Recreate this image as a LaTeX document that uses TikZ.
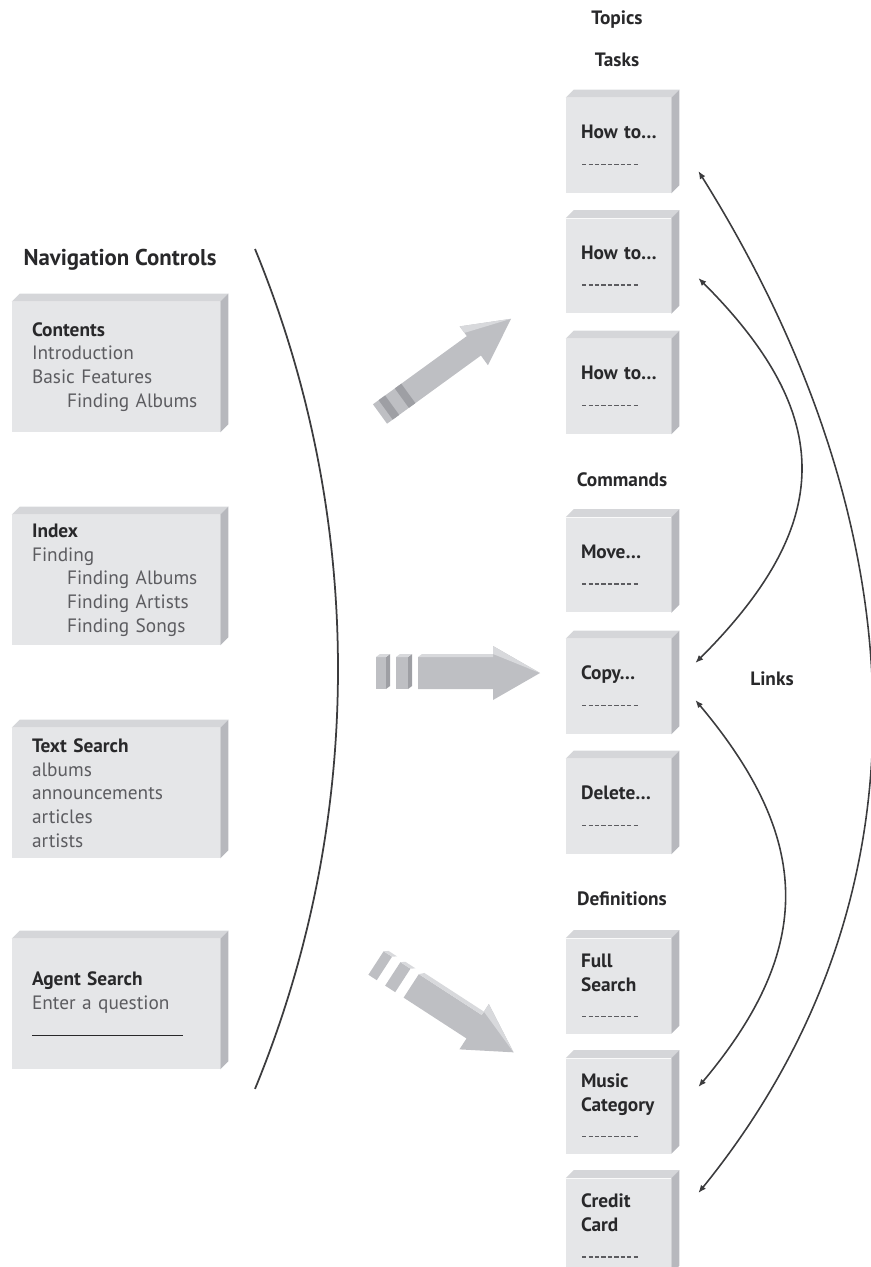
\documentclass[tikz,border=0pt]{standalone}
\usepackage{fontspec}
\setmainfont{PT Sans}
\usepackage{xcolor}
\usepackage{tikz}
\usetikzlibrary{arrows.meta}
\definecolor{box_front}{RGB}{229, 230, 232}
\definecolor{box_top}{RGB}{213, 214, 217}
\definecolor{box_side}{RGB}{183, 184, 189}
\definecolor{arrow_front}{RGB}{190, 191, 195}
\definecolor{arrow_top}{RGB}{216, 217, 220}
\definecolor{arrow_dark}{RGB}{158, 159, 164}
\definecolor{ink_dark}{RGB}{40, 40, 42}
\definecolor{ink_soft}{RGB}{92, 92, 96}
\definecolor{ink_line}{RGB}{60, 60, 62}

% top face and right side of a raised panel
\newcommand{\boxedges}[1]{%
  \fill[box_top] (#1.north west) -- ++(8,8) -- ([shift={(8,8)}]#1.north east) -- (#1.north east) -- cycle;
  \fill[box_side] (#1.north east) -- ++(8,8) -- ([shift={(8,8)}]#1.south east) -- (#1.south east) -- cycle;}
\newcommand{\boxtitle}[1]{\textcolor{ink_dark}{\bfseries #1}}
\newcommand{\blankline}{\leavevmode{\color{ink_soft}\xleaders\hbox to 3.6pt{\hss\rule[0.5pt]{2.5pt}{0.6pt}\hss}\hskip 33pt}\relax}

\begin{document}
\begin{tikzpicture}[x=0.02cm, y=0.02cm,
    navbox/.style={fill=box_front, minimum width=4.16cm, minimum height=2.6cm,
      text width=3.36cm, inner xsep=0.4cm, align=left,
      font=\fontsize{11}{13.5}\selectfont, text=ink_soft},
    topicbox/.style={fill=box_front, minimum width=2.1cm, minimum height=1.9cm,
      text width=1.5cm, inner xsep=0.3cm, align=left,
      font=\fontsize{11}{13.5}\selectfont\bfseries, text=ink_dark},
    groupname/.style={font=\fontsize{11}{13}\selectfont\bfseries, text=ink_dark},
    navcurve/.style={draw=ink_line, line width=1pt},
    topiclink/.style={draw=ink_line, line width=0.9pt,
      {Latex[length=4.5pt,width=3.6pt]}-{Latex[length=4.5pt,width=3.6pt]}}]
    \useasboundingbox (0,0) rectangle (870,-1267);

    % Navigation controls
    \node[groupname, font=\fontsize{13}{15}\selectfont\bfseries] (navigation) at (120,-260) {Navigation Controls};
    \node[navbox] (contents) at (116,-367) {\boxtitle{Contents}\\Introduction\\Basic Features\\\hspace*{0.7cm}Finding Albums};
    \node[navbox] (index) at (116,-580) {\boxtitle{Index}\\Finding\\\hspace*{0.7cm}Finding Albums\\\hspace*{0.7cm}Finding Artists\\\hspace*{0.7cm}Finding Songs};
    \node[navbox] (textsearch) at (116,-793) {\boxtitle{Text Search}\\albums\\announcements\\articles\\artists};
    \node[navbox] (agentsearch) at (116,-1004) {\boxtitle{Agent Search}\\Enter a question\\[2pt]\textcolor{ink_dark}{\rule{86pt}{0.8pt}}};
    \foreach \name in {contents, index, textsearch, agentsearch}
        \boxedges{\name};

    \draw[navcurve] (255,-249) arc[start angle=22.36, end angle=-22.36, radius=1104];

    % Topics
    \node[groupname] (topics) at (617,-20) {Topics};
    \node[groupname] (tasks) at (617,-60) {Tasks};
    \node[groupname] (commands) at (622,-480) {Commands};
    \node[groupname] (definitions) at (622,-899) {Definitions};
    \foreach \name/\y/\txt in {t1/-145.5/{How~to\ldots}, t2/-266/{How~to\ldots}, t3/-386.5/{How~to\ldots},
                               t4/-565/{Move\ldots}, t5/-686.5/{Copy\ldots}, t6/-806.5/{Delete\ldots},
                               t7/-986/{Full\\Search}, t8/-1106/{Music\\Category}, t9/-1226/{Credit\\Card}} {
        \node[topicbox] (\name) at (618.5,\y) {\txt\\[2pt]\blankline};
        \boxedges{\name}
    }

    % Big arrows, tail at the origin of each scope
    \begin{scope}[shift={(380,-414)}, rotate=36]
        \fill[arrow_front] (0,-12) -- (116,-12) -- (116,-24) -- (162,0) -- (116,24) -- (116,12) -- (0,12) -- cycle;
        \fill[arrow_top] (116,16) -- (116,24) -- (162,0) -- cycle;
        \fill[arrow_dark] (7,-12) rectangle (15,12);
        \fill[arrow_dark] (27,-12) rectangle (35,12);
    \end{scope}
    \begin{scope}[shift={(376,-673)}]
        \fill[arrow_front] (0,-16) rectangle (10,16);
        \fill[arrow_dark] (10,-16) -- (10,16) -- (14,19) -- (14,-13) -- cycle;
        \fill[arrow_top] (0,16) -- (4,19) -- (14,19) -- (10,16) -- cycle;
        \fill[arrow_front] (20,-16) rectangle (32,16);
        \fill[arrow_dark] (32,-16) -- (32,16) -- (36,19) -- (36,-13) -- cycle;
        \fill[arrow_top] (20,16) -- (24,19) -- (36,19) -- (32,16) -- cycle;
        \fill[arrow_front] (42,-16) -- (117,-16) -- (117,-27) -- (164,0) -- (117,27) -- (117,16) -- (42,16) -- cycle;
        \fill[arrow_top] (42,16) -- (46,19) -- (117,19) -- (117,16) -- cycle;
        \fill[arrow_top] (117,19) -- (117,27) -- (164,0) -- cycle;
    \end{scope}
    \begin{scope}[shift={(376,-963)}, rotate=-33]
        \fill[arrow_front] (0,-14) rectangle (10,14);
        \fill[arrow_top] (0,14) -- (4,17) -- (14,17) -- (10,14) -- cycle;
        \fill[arrow_front] (20,-14) rectangle (32,14);
        \fill[arrow_top] (20,14) -- (24,17) -- (36,17) -- (32,14) -- cycle;
        \fill[arrow_front] (42,-14) -- (117,-14) -- (117,-27) -- (164,0) -- (117,27) -- (117,14) -- (42,14) -- cycle;
        \fill[arrow_top] (42,14) -- (46,18) -- (117,18) -- (117,14) -- cycle;
        \fill[arrow_top] (117,18) -- (117,27) -- (164,0) -- cycle;
    \end{scope}

    % Links between topics
    \node[groupname] (links) at (772,-679) {Links};
    \draw[topiclink] ([shift={(27,-25.5)}]t1.east) to[out=-58, in=51] ([shift={(27,33)}]t9.east);
    \draw[topiclink] ([shift={(27,-12)}]t2.east) to[out=-45, in=45, looseness=1.3] ([shift={(24,23.5)}]t5.east);
    \draw[topiclink] ([shift={(24,-13.5)}]t5.east) to[out=-50, in=50, looseness=1.2] ([shift={(27,19)}]t8.east);
\end{tikzpicture}
\end{document}
